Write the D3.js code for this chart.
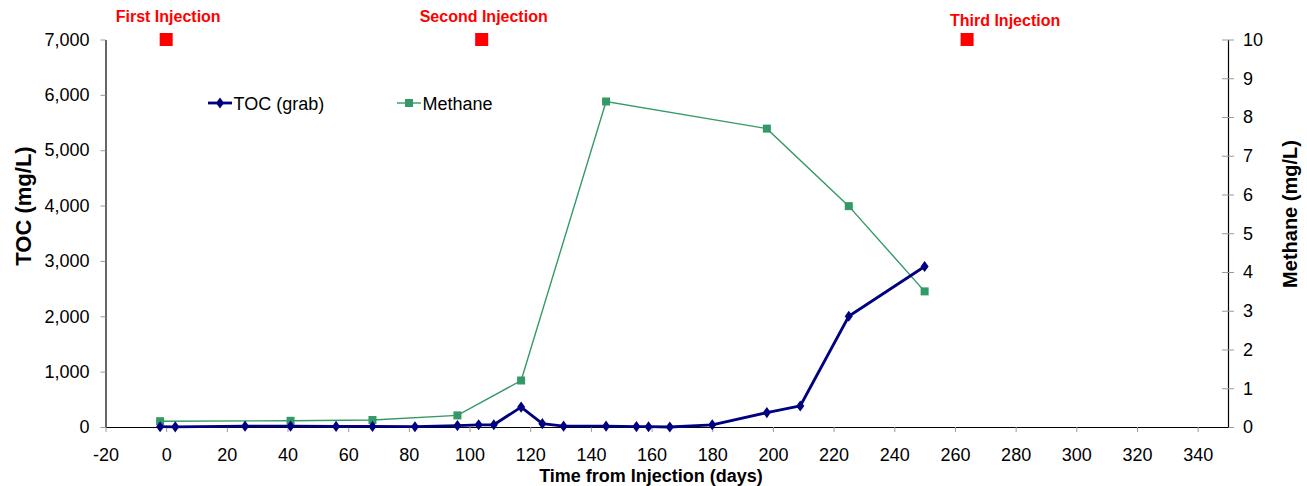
<!DOCTYPE html>
<html>
<head>
<meta charset="utf-8">
<script src="https://cdn.jsdelivr.net/npm/d3@7"></script>
<style>
  html, body { margin: 0; padding: 0; background: #fff; }
  svg { display: block; font-family: Arial, "Liberation Sans", sans-serif; }
</style>
</head>
<body>
<svg id="chart" width="1307" height="486"></svg>
<script>
// TOC grab samples: day and concentration (mg/L)
const tocDays = [-2, 3, 26, 41, 56, 68, 82, 96, 103, 108, 117, 124, 131, 145, 155, 159, 166, 180, 198, 209, 225, 250];
const tocValues = [5, 3, 15, 15, 10, 10, 5, 25, 40, 40, 360, 60, 15, 15, 8, 5, 0, 40, 260, 380, 2000, 2900];

// Methane samples: day and concentration (mg/L)
const methaneDays = [-2, 41, 68, 96, 117, 145, 198, 225, 250];
const methaneValues = [0.15, 0.16, 0.18, 0.3, 1.2, 8.4, 7.7, 5.7, 3.5];

// Injection events, plotted at the top of the TOC axis
const injectionDays = [0, 104, 264];
const injectionLabels = ["First Injection", "Second Injection", "Third Injection"];
const injectionLevel = [7000, 7000, 7000];

// Axis ticks
const xTicks = d3.range(-20, 341, 20);
const tocTicks = d3.range(0, 7001, 1000);
const methaneTicks = d3.range(0, 11, 1);

const svg = d3.select("#chart");
const plot = { left: 105.5, right: 1228, top: 39.5, bottom: 427 };

const x = d3.scaleLinear().domain([-20, 350]).range([plot.left, plot.right]);
const yToc = d3.scaleLinear().domain([0, 7000]).range([plot.bottom, plot.top]);
const yMeth = d3.scaleLinear().domain([0, 10]).range([plot.bottom, plot.top]);

const NAVY = "#000080", GREEN = "#339966", RED = "#ff0000", TICK = "#9a9a9a";
const FONT = 18;

// Left axis (TOC)
const gL = svg.append("g").attr("transform", `translate(${plot.left},0)`)
  .call(d3.axisLeft(yToc).tickValues(tocTicks).tickFormat(d3.format(","))
    .tickSizeInner(5).tickSizeOuter(0).tickPadding(11));

// Right axis (Methane) with ticks crossing the axis line
const gR = svg.append("g").attr("transform", `translate(${plot.right},0)`)
  .call(d3.axisRight(yMeth).tickValues(methaneTicks).tickFormat(d3.format("d"))
    .tickSizeInner(6).tickSizeOuter(0).tickPadding(9));
gR.selectAll(".tick line").attr("x1", -6).attr("x2", 6);

// Bottom axis (time)
const gB = svg.append("g").attr("transform", `translate(0,${plot.bottom})`)
  .call(d3.axisBottom(x).tickValues(xTicks).tickFormat(d3.format("d"))
    .tickSizeInner(5).tickSizeOuter(0).tickPadding(16));

[gL, gR, gB].forEach(g => {
  g.select(".domain").attr("stroke", "#000").attr("stroke-width", 1.2);
  g.selectAll(".tick line").attr("stroke", TICK);
  g.selectAll(".tick text").attr("fill", "#000")
    .style("font-size", FONT + "px").style("font-family", "Arial, 'Liberation Sans', sans-serif");
});
gB.selectAll(".tick text").text(d => d < 0 ? "-" + Math.abs(d) : d);

// Axis titles
svg.append("text")
  .attr("transform", `translate(31,206) rotate(-90)`)
  .attr("text-anchor", "middle").attr("font-weight", "bold").attr("font-size", 22)
  .text("TOC (mg/L)");
svg.append("text")
  .attr("transform", `translate(1297,214) rotate(-90)`)
  .attr("text-anchor", "middle").attr("font-weight", "bold").attr("font-size", 20)
  .text("Methane (mg/L)");
svg.append("text")
  .attr("x", 651).attr("y", 482)
  .attr("text-anchor", "middle").attr("font-weight", "bold").attr("font-size", 18)
  .text("Time from Injection (days)");

// Methane series
const methPts = methaneDays.map((d, i) => [d, methaneValues[i]]);
svg.append("path")
  .attr("d", d3.line().x(d => x(d[0])).y(d => yMeth(d[1]))(methPts))
  .attr("fill", "none").attr("stroke", GREEN).attr("stroke-width", 1.4);
svg.append("g").selectAll("rect").data(methPts).join("rect")
  .attr("x", d => x(d[0]) - 4).attr("y", d => yMeth(d[1]) - 4)
  .attr("width", 8).attr("height", 8).attr("fill", GREEN);

// TOC series
const tocPts = tocDays.map((d, i) => [d, tocValues[i]]);
svg.append("path")
  .attr("d", d3.line().x(d => x(d[0])).y(d => yToc(d[1]))(tocPts))
  .attr("fill", "none").attr("stroke", NAVY).attr("stroke-width", 2.8)
  .attr("stroke-linejoin", "round");
const diamond = d3.symbol().type(d3.symbolDiamond).size(36);
svg.append("g").selectAll("path").data(tocPts).join("path")
  .attr("d", diamond)
  .attr("transform", d => `translate(${x(d[0])},${yToc(d[1])}) scale(1.25,1)`)
  .attr("fill", NAVY);

// Injection markers and labels
const labelOffsets = [[2, 22], [2, 22], [38, 25.5]];
const inj = svg.append("g");
injectionDays.forEach((d, i) => {
  const cx = x(d), cy = yToc(injectionLevel[i]);
  inj.append("rect").attr("x", cx - 6.5).attr("y", cy - 6.5)
    .attr("width", 13).attr("height", 13).attr("fill", RED);
  inj.append("text").attr("x", cx + labelOffsets[i][0]).attr("y", labelOffsets[i][1])
    .attr("text-anchor", "middle").attr("font-weight", "bold").attr("font-size", 16)
    .attr("fill", RED).text(injectionLabels[i]);
});

// Legend
const legend = svg.append("g");
const legendItems = [
  { name: "TOC (grab)", color: NAVY, width: 2.8, x0: 208, x1: 232, shape: "diamond" },
  { name: "Methane", color: GREEN, width: 1.4, x0: 397, x1: 421, shape: "square" }
];
const ly = 103;
legendItems.forEach(it => {
  legend.append("line").attr("x1", it.x0).attr("x2", it.x1).attr("y1", ly).attr("y2", ly)
    .attr("stroke", it.color).attr("stroke-width", it.width);
  const mx = (it.x0 + it.x1) / 2;
  if (it.shape === "diamond") {
    legend.append("path").attr("d", diamond)
      .attr("transform", `translate(${mx},${ly}) scale(1.25,1)`).attr("fill", it.color);
  } else {
    legend.append("rect").attr("x", mx - 4).attr("y", ly - 4).attr("width", 8).attr("height", 8)
      .attr("fill", it.color);
  }
  legend.append("text").attr("x", it.x1 + 1.5).attr("y", ly + 6.5)
    .attr("font-size", FONT).attr("fill", "#000").text(it.name);
});
</script>
</body>
</html>
